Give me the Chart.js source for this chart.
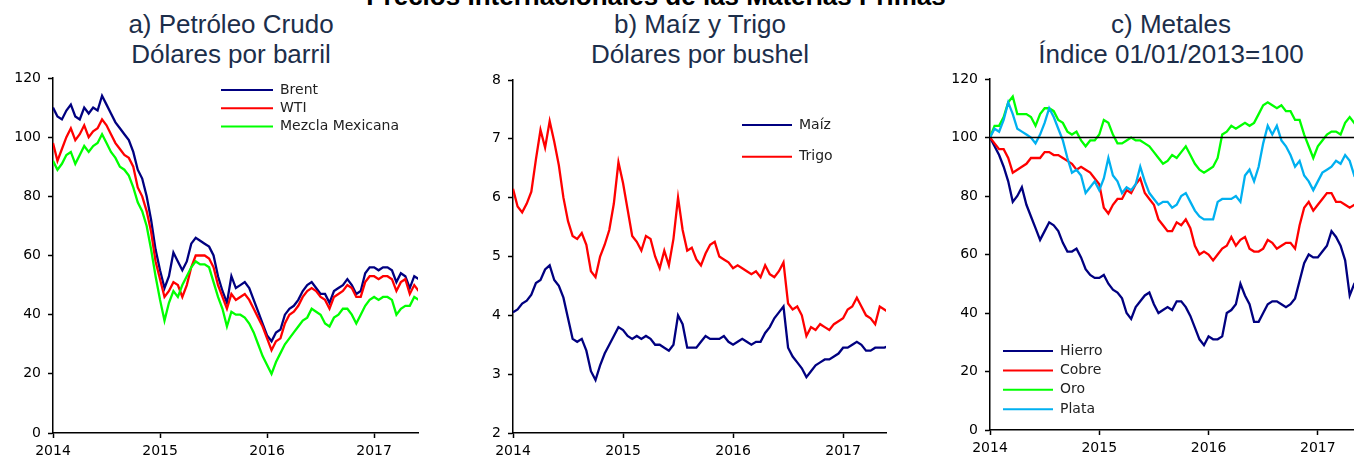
<!DOCTYPE html>
<html>
<head>
<meta charset="utf-8">
<script src="https://cdn.jsdelivr.net/npm/chart.js@4"></script>
<style>
body{margin:0;width:1354px;height:457px;overflow:hidden;background:#fff;position:relative;font-family:"Liberation Sans",Arial,sans-serif;}
#sup{position:absolute;top:-17px;left:256px;width:800px;text-align:center;font-weight:bold;font-size:26px;line-height:26px;color:#000;white-space:nowrap;}
.tit{position:absolute;top:9px;width:400px;font-size:26px;line-height:30px;color:#1c2e4a;text-align:center;white-space:nowrap;}
canvas{position:absolute;top:0;}
</style>
</head>
<body>
<div id="sup">Precios Internacionales de las Materias Primas</div>
<div class="tit" style="left:31px">a) Petróleo Crudo<br>Dólares por barril</div>
<div class="tit" style="left:500px">b) Maíz y Trigo<br>Dólares por bushel</div>
<div class="tit" style="left:971px">c) Metales<br>Índice 01/01/2013=100</div>
<canvas id="petroleo" width="462" height="457" style="left:0px"></canvas>
<canvas id="granos" width="460" height="457" style="left:470px"></canvas>
<canvas id="metales" width="462" height="457" style="left:940px"></canvas>
<script>
// fechas quincenales, ene-2014 a jun-2017 (en años)
const fechas = Array.from({length: 83}, (_, i) => 2014 + i / 24);
const anios = [2014, 2015, 2016, 2017];

// ..... a) petroleo, dolares por barril .....
const brent = [110,107,106,109,111,107,106,110,108,110,109,114,111,108,105,103,101,99,95,89,86,80,72,62,
  55,49,53,61,58,55,58,64,66,65,64,63,60,53,48,44,53,49,50,51,49,45,41,37,
  33,31,34,35,40,42,43,45,48,50,51,49,47,47,44,48,49,50,52,50,47,48,54,56,
  56,55,56,56,55,51,54,53,49,53,52];
const wti = [98,92,96,100,103,99,101,104,100,102,103,106,104,101,98,96,94,93,90,83,80,75,68,58,
  52,46,48,51,50,46,50,56,60,60,60,59,56,50,46,42,47,45,46,47,45,42,39,36,
  32,28,31,32,37,40,41,43,46,48,49,48,46,45,42,46,47,48,50,49,46,46,51,53,
  53,52,53,53,52,48,51,52,47,50,48];
const mezcla = [92,89,91,94,95,91,94,97,95,97,98,101,98,95,93,90,89,87,83,78,75,70,62,53,
  45,38,44,48,46,50,53,56,58,57,57,56,51,46,42,36,41,40,40,39,37,34,30,26,
  23,20,24,27,30,32,34,36,38,39,42,41,40,37,36,39,40,42,42,40,37,40,43,45,
  46,45,46,46,45,40,42,43,43,46,45];

// ..... b) maiz y trigo, dolares por bushel .....
const maiz = [4.05,4.1,4.2,4.25,4.35,4.55,4.6,4.78,4.85,4.6,4.5,4.3,3.95,3.6,3.55,3.6,3.4,3.05,2.9,3.15,3.35,3.5,3.65,3.8,
  3.75,3.65,3.6,3.65,3.6,3.65,3.6,3.5,3.5,3.45,3.4,3.5,4.0,3.85,3.45,3.45,3.45,3.55,3.65,3.6,3.6,3.6,3.65,3.55,
  3.5,3.55,3.6,3.55,3.5,3.55,3.55,3.7,3.8,3.95,4.05,4.15,3.45,3.3,3.2,3.1,2.95,3.05,3.15,3.2,3.25,3.25,3.3,3.35,
  3.45,3.45,3.5,3.55,3.5,3.4,3.4,3.45,3.45,3.45,3.48];
const trigo = [6.15,5.85,5.75,5.9,6.1,6.65,7.15,6.85,7.3,6.95,6.55,6.0,5.6,5.35,5.3,5.4,5.2,4.75,4.65,5.0,5.2,5.45,5.9,6.6,
  6.25,5.8,5.35,5.25,5.1,5.35,5.3,5.0,4.8,5.1,4.85,5.3,6.0,5.45,5.1,5.15,4.95,4.85,5.05,5.2,5.25,5.0,4.95,4.9,
  4.8,4.85,4.8,4.75,4.7,4.75,4.65,4.85,4.7,4.65,4.75,4.9,4.2,4.1,4.15,4.0,3.65,3.8,3.75,3.85,3.8,3.75,3.85,3.9,
  3.95,4.1,4.15,4.3,4.15,4.0,3.95,3.85,4.15,4.1,4.05];

// ..... c) metales, indice 01/01/2013=100 .....
const hierro = [100,97,94,90,85,78,80,83,77,73,69,65,68,71,70,68,64,61,61,62,59,55,53,52,
  52,53,50,48,47,45,40,38,42,44,46,47,43,40,41,42,41,44,44,42,39,35,31,29,
  32,31,31,32,40,41,43,50,46,43,37,37,40,43,44,44,43,42,43,45,51,57,60,59,
  59,61,63,68,66,63,58,46,50,52,53];
const cobre = [100,98,96,96,93,88,89,90,91,93,93,93,95,95,94,94,93,92,91,89,90,89,88,86,
  84,76,74,77,79,79,82,81,84,86,81,79,77,72,70,68,68,71,70,72,69,63,60,61,
  60,58,60,62,63,66,63,65,66,62,61,61,62,65,64,62,63,64,64,62,70,76,78,75,
  77,79,81,81,78,78,77,76,77,77,76];
const oro = [100,104,104,107,112,114,108,108,108,107,104,108,110,110,109,106,105,102,101,102,99,97,99,99,
  101,106,105,101,98,98,99,100,99,99,98,97,95,93,91,92,94,93,95,97,94,91,89,88,
  89,90,93,101,102,104,103,104,105,104,105,108,111,112,111,110,111,109,109,106,106,101,97,93,
  97,99,101,102,102,101,105,107,105,106,105];
const plata = [100,103,102,106,112,108,103,102,101,100,98,101,105,110,107,103,99,93,88,89,87,81,83,85,
  82,86,93,87,85,81,83,82,84,90,85,81,79,77,78,78,76,77,80,81,78,75,73,72,
  72,72,78,79,79,79,80,78,87,89,85,90,98,104,101,104,99,97,94,90,92,87,85,82,
  85,88,89,90,92,91,94,92,87,88,89];
const base = 100;

const serie = v => v.map((y, i) => ({x: fechas[i], y: y}));
const linea = (label, v, color, orden) => ({
  label: label, data: serie(v), borderColor: color, borderWidth: 2.3,
  pointRadius: 0, tension: 0, fill: false, order: orden
});

// leyenda dibujada a mano dentro del area
const leyenda = {
  id: 'leyenda',
  afterDatasetsDraw(chart, args, o) {
    const ctx = chart.ctx;
    ctx.save();
    ctx.font = '14px "DejaVu Sans"';
    ctx.textBaseline = 'middle';
    chart.data.datasets.forEach((d, k) => {
      if (!d.label) return;
      const y = o.y + k * o.dy;
      ctx.strokeStyle = d.borderColor;
      ctx.lineWidth = 2;
      ctx.beginPath();
      ctx.moveTo(o.x, y);
      ctx.lineTo(o.x + o.len, y);
      ctx.stroke();
      ctx.fillStyle = '#222';
      ctx.fillText(d.label, o.x + o.len + 7, y);
    });
    ctx.restore();
  }
};

const fuente = {family: 'DejaVu Sans', size: 14};
function ejes(ymin, ymax, paso, xmax, izq, abajo) {
  const marcas = {drawOnChartArea: false, tickLength: 5, tickColor: '#000', tickWidth: 1.5};
  return {
    x: {
      type: 'linear', min: 2014, max: xmax,
      afterFit: s => { s.height = abajo; },
      afterBuildTicks: s => { s.ticks = anios.map(v => ({value: v})); },
      ticks: {callback: v => String(v), color: '#000', font: fuente, padding: 5, maxRotation: 0},
      grid: marcas,
      border: {color: '#000', width: 1.5}
    },
    y: {
      min: ymin, max: ymax,
      afterFit: s => { s.width = izq; },
      ticks: {stepSize: paso, color: '#000', font: fuente, padding: 7},
      grid: marcas,
      border: {color: '#000', width: 1.5}
    }
  };
}

function opciones(esc, pad, ley) {
  return {
    responsive: false,
    animation: false,
    layout: {padding: pad},
    scales: esc,
    plugins: {legend: {display: false}, tooltip: {enabled: false}, leyenda: ley}
  };
}

new Chart(document.getElementById('petroleo'), {
  type: 'line',
  data: {datasets: [
    linea('Brent', brent, '#000080', 3),
    linea('WTI', wti, '#ff0000', 2),
    linea('Mezcla Mexicana', mezcla, '#00ff00', 1)
  ]},
  options: opciones(ejes(0, 120, 20, 2017.41, 53, 24), {top: 78, right: 44, left: 0, bottom: 0},
    {x: 221, y: 90, dy: 18.3, len: 52}),
  plugins: [leyenda]
});

new Chart(document.getElementById('granos'), {
  type: 'line',
  data: {datasets: [
    linea('Maíz', maiz, '#000080', 2),
    linea('Trigo', trigo, '#ff0000', 1)
  ]},
  options: opciones(ejes(2, 8, 1, 2017.39, 43, 24), {top: 80, right: 44, left: 0, bottom: 0},
    {x: 272, y: 125, dy: 31.7, len: 50}),
  plugins: [leyenda]
});

new Chart(document.getElementById('metales'), {
  type: 'line',
  data: {datasets: [
    linea('Hierro', hierro, '#000080', 4),
    linea('Cobre', cobre, '#ff0000', 3),
    linea('Oro', oro, '#00ff00', 2),
    linea('Plata', plata, '#00b0f0', 1),
    {data: [{x: 2014, y: base}, {x: 2018, y: base}], borderColor: '#000', borderWidth: 1.5, pointRadius: 0, order: 0}
  ]},
  options: opciones(ejes(0, 120, 20, 2017.45, 50, 27), {top: 79, right: 35, left: 0, bottom: 0},
    {x: 63, y: 351, dy: 19.4, len: 50}),
  plugins: [leyenda]
});
</script>
</body>
</html>
